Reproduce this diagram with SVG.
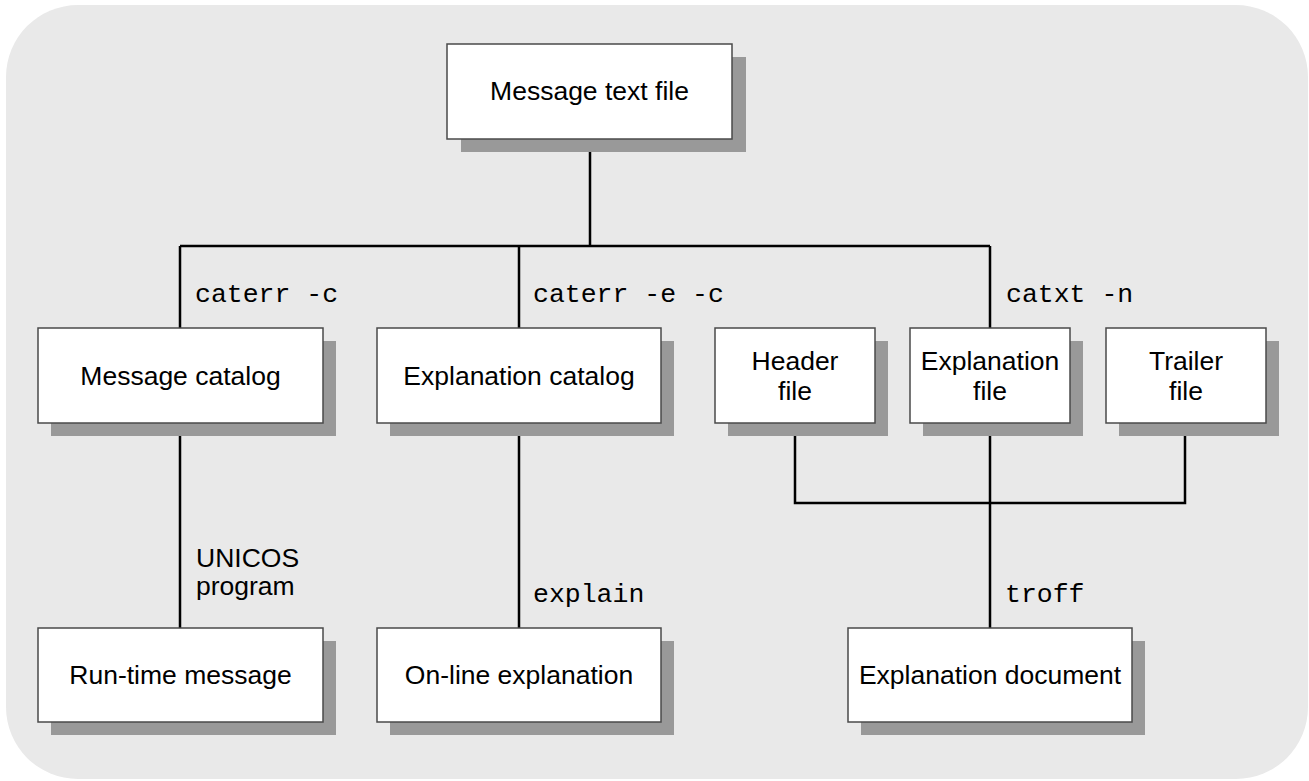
<svg xmlns="http://www.w3.org/2000/svg" width="1309" height="781" viewBox="0 0 1309 781">
<style>
.bg{fill:#e9e9e9}
.sh{fill:#999999}
.bx{fill:#ffffff;stroke:#4a4a4a;stroke-width:1.5}
.t{font-family:"Liberation Sans",Arial,sans-serif;font-size:26.5px;fill:#000;text-anchor:middle}
.l{font-family:"Liberation Sans",Arial,sans-serif;font-size:26.5px;fill:#000}
.m{font-family:"Liberation Mono","Courier New",monospace;font-size:26.5px;fill:#000}
.c{fill:none;stroke:#000;stroke-width:2.5}
</style>
<rect class="bg" x="6" y="5" width="1302" height="774" rx="72" ry="72"/>
<g id="connectors">
<path class="c" d="M590 139V246M180 246H990M180 246V328M519 246V328M990 246V328"/>
<path class="c" d="M180 423V628M519 423V628"/>
<path class="c" d="M795 423V503H1185V423M990 423V628"/>
</g>
<g id="labels">
<text class="m" x="195" y="302">caterr -c</text>
<text class="m" x="533" y="302">caterr -e -c</text>
<text class="m" x="1006" y="302">catxt -n</text>
<text class="l" x="196" y="567">UNICOS</text>
<text class="l" x="196" y="595">program</text>
<text class="m" x="533" y="602">explain</text>
<text class="m" x="1005" y="602">troff</text>
</g>
<g id="n-message-text-file">
<rect class="sh" x="461" y="57" width="285" height="95"/>
<rect class="bx" x="447" y="44" width="285" height="95"/>
<text class="t" x="589.5" y="100">Message text file</text>
</g>
<g id="n-message-catalog">
<rect class="sh" x="51" y="341" width="285" height="95"/>
<rect class="bx" x="38" y="328" width="285" height="95"/>
<text class="t" x="180.5" y="385">Message catalog</text>
</g>
<g id="n-explanation-catalog">
<rect class="sh" x="390" y="341" width="284" height="95"/>
<rect class="bx" x="377" y="328" width="284" height="95"/>
<text class="t" x="519" y="385">Explanation catalog</text>
</g>
<g id="n-header-file">
<rect class="sh" x="728" y="341" width="160" height="95"/>
<rect class="bx" x="715" y="328" width="160" height="95"/>
<text class="t" x="795" y="370">Header</text>
<text class="t" x="795" y="400">file</text>
</g>
<g id="n-explanation-file">
<rect class="sh" x="923" y="341" width="160" height="95"/>
<rect class="bx" x="910" y="328" width="160" height="95"/>
<text class="t" x="990" y="370">Explanation</text>
<text class="t" x="990" y="400">file</text>
</g>
<g id="n-trailer-file">
<rect class="sh" x="1119" y="341" width="160" height="95"/>
<rect class="bx" x="1106" y="328" width="160" height="95"/>
<text class="t" x="1186" y="370">Trailer</text>
<text class="t" x="1186" y="400">file</text>
</g>
<g id="n-run-time-message">
<rect class="sh" x="51" y="641" width="285" height="94"/>
<rect class="bx" x="38" y="628" width="285" height="94"/>
<text class="t" x="180.5" y="684">Run-time message</text>
</g>
<g id="n-online-explanation">
<rect class="sh" x="390" y="641" width="284" height="94"/>
<rect class="bx" x="377" y="628" width="284" height="94"/>
<text class="t" x="519" y="684">On-line explanation</text>
</g>
<g id="n-explanation-document">
<rect class="sh" x="861" y="641" width="284" height="94"/>
<rect class="bx" x="848" y="628" width="284" height="94"/>
<text class="t" x="990" y="684">Explanation document</text>
</g>
</svg>
